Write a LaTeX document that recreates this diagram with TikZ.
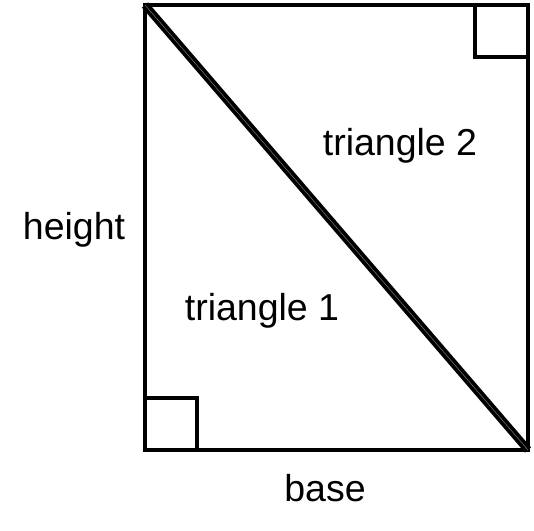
\documentclass[tikz,border=0pt]{standalone}
\usepackage{fontspec}
\setmainfont{Liberation Sans}
\begin{document}
\begin{tikzpicture}[x=1pt, y=1pt, line width=4pt]
\useasboundingbox (0,0) rectangle (534,530);
\coordinate (tl) at (145,525);
\coordinate (tr) at (528,525);
\coordinate (bl) at (145,80);
\coordinate (br) at (528,80);
\draw[line join=miter] (tl) -- (tr) -- (br) -- (bl) -- cycle;
\draw[line width=8pt] (tl) -- (br);
\draw[draw=white!55!black, line width=0.4pt] (tl) -- (br);
\draw[] (475,525) -- (475,473) -- (528,473);
\draw[] (145,132) -- (197,132) -- (197,80);
\node[font=\fontsize{37.5}{40}\selectfont] (height) at (74,300) {height};
\node[font=\fontsize{37.5}{40}\selectfont] (tri2) at (400,384) {triangle 2};
\node[font=\fontsize{37.5}{40}\selectfont] (tri1) at (262,219) {triangle 1};
\node[font=\fontsize{37.5}{40}\selectfont] (base) at (325,42) {base};
\end{tikzpicture}
\end{document}
